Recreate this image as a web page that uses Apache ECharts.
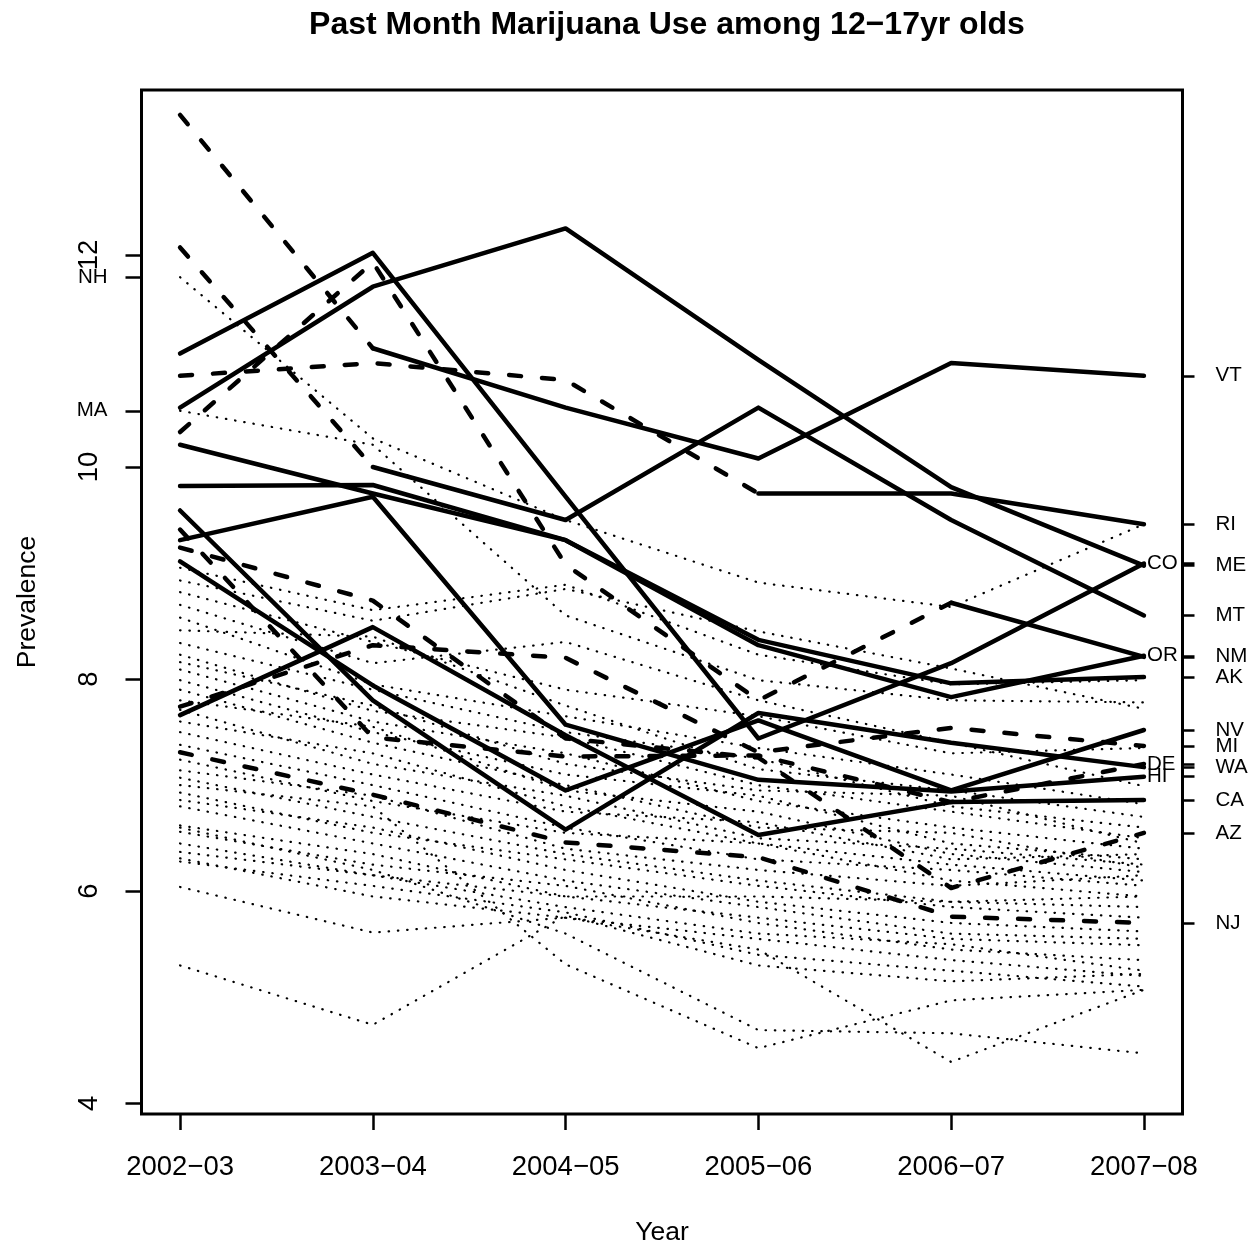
<!DOCTYPE html>
<html><head><meta charset="utf-8">
<script src="https://cdn.jsdelivr.net/npm/echarts@6/dist/echarts.min.js"></script>
<style>html,body{margin:0;padding:0;background:#fff}#c{width:1251px;height:1245px}</style>
</head><body><div id="c"></div>
<script>
// ---------- data ----------
const years = ['2002\u221203','2003\u221204','2004\u221205','2005\u221206','2006\u221207','2007\u221208'];
const yTicks = [4, 6, 8, 10, 12];

// states with (eventual) medical marijuana laws: dashed before law, solid after
const VT = [13.32, 11.12, 10.56, 10.08, 10.98, 10.86];
const MT = [12.07, 10.00, 9.50, 10.56, 9.50, 8.60];
const RI = [10.86, 10.98, 10.82, 9.75, 9.75, 9.46];
const NM = [10.33, 11.93, 9.08, 7.80, 8.72, 8.21];
const ME = [10.56, 11.70, 12.25, 11.01, 9.81, 9.07];
const CO = [11.07, 12.02, 9.72, 7.44, 8.15, 9.09];
const AK = [10.21, 9.75, 9.31, 8.37, 7.96, 8.02];
const OR = [9.82, 9.83, 9.31, 8.32, 7.83, 8.22];
const HI = [9.31, 9.72, 7.57, 7.05, 6.94, 7.08];
const CA = [7.66, 8.49, 7.47, 6.53, 6.84, 6.86];
const WA = [9.59, 7.80, 6.58, 7.68, 7.40, 7.17];
const NV = [9.11, 7.94, 6.95, 7.61, 6.95, 7.52];
const MI = [7.74, 8.32, 8.20, 7.31, 7.54, 7.37];
const DE = [9.41, 7.45, 7.27, 7.28, 6.84, 7.20];
const AZ = [9.24, 8.74, 7.44, 7.26, 6.03, 6.55];
const NJ = [7.31, 6.91, 6.46, 6.32, 5.76, 5.70];

// index of the first period drawn solid (6 = never solid)
const solidFrom = {VT:1, MT:1, RI:3, NM:4, ME:0, CO:0, AK:0, OR:0, HI:0, CA:0, WA:0, NV:0, MI:6, DE:6, AZ:6, NJ:6};
const thickStates = {VT, MT, RI, NM, ME, CO, AK, OR, HI, CA, WA, NV, MI, DE, AZ, NJ};
const rightLabelled = ['VT','RI','ME','MT','NM','AK','NV','MI','WA','CA','AZ','NJ'];
const inlineLabelled = ['CO','OR','DE','HI'];

// other states (dotted)
const NH = [11.79, 10.27, 9.50, 8.91, 8.68, 9.46];
const MA = [10.53, 10.21, 8.60, 7.99, 7.80, 7.78];
const others = [
  [9.05, 8.65, 8.89, 8.23, 7.95, 7.99],
  [8.93, 8.55, 8.85, 8.45, 8.10, 7.72],
  [8.82, 8.35, 7.90, 7.65, 7.30, 7.35],
  [8.70, 8.15, 8.35, 7.80, 7.40, 6.99],
  [8.58, 7.95, 7.65, 7.35, 7.10, 6.82],
  [8.46, 8.40, 7.75, 7.15, 6.95, 6.70],
  [8.34, 7.90, 7.50, 7.25, 6.80, 6.60],
  [8.23, 7.70, 7.45, 7.00, 6.75, 6.50],
  [8.16, 7.75, 7.20, 6.95, 6.90, 6.45],
  [8.09, 7.60, 7.30, 6.85, 6.60, 6.40],
  [7.99, 7.50, 7.10, 6.90, 6.45, 6.30],
  [7.90, 7.40, 7.00, 6.60, 6.55, 6.22],
  [7.80, 7.55, 6.95, 6.75, 6.35, 6.18],
  [7.71, 7.20, 6.90, 6.50, 6.40, 6.25],
  [7.60, 7.30, 6.80, 6.45, 6.25, 6.10],
  [7.50, 7.10, 6.75, 6.65, 6.30, 6.35],
  [7.38, 7.00, 6.60, 6.30, 6.20, 6.05],
  [7.24, 6.85, 6.55, 6.45, 6.10, 5.95],
  [7.14, 6.90, 6.40, 6.20, 6.05, 6.15],
  [7.07, 6.70, 6.35, 6.10, 5.90, 5.85],
  [7.00, 6.80, 5.31, 4.52, 4.97, 5.07],
  [6.93, 6.55, 6.30, 6.05, 5.85, 5.75],
  [6.86, 6.60, 6.20, 5.90, 5.70, 5.62],
  [6.80, 6.45, 6.10, 5.85, 5.60, 5.55],
  [6.62, 6.35, 5.95, 5.75, 5.55, 5.49],
  [6.56, 6.25, 6.05, 5.70, 5.45, 5.35],
  [6.45, 6.15, 5.85, 5.60, 5.50, 5.25],
  [6.37, 6.15, 5.95, 5.95, 5.90, 5.95],
  [6.31, 5.95, 5.75, 5.55, 5.35, 5.20],
  [6.28, 6.05, 5.80, 5.40, 5.25, 5.10],
  [6.04, 5.61, 5.75, 5.45, 4.39, 5.07],
  [5.30, 4.74, 5.77, 5.30, 5.15, 5.22],
  [6.60, 6.20, 5.60, 4.69, 4.66, 4.47]
];

// ---------- chart ----------
const FONT = '"Liberation Sans", Arial, Helvetica, sans-serif';
const YMIN = 3.899, YMAX = 13.555;
const pts = (arr, a, b) => arr.map((v, i) => [i, v]).slice(a, b + 1);

const series = [];
const dottedStyle = {color:'#000', width:2.2, type:[0.5, 8.8], cap:'round'};
[NH, MA].concat(others).forEach(arr => {
  series.push({type:'line', data:pts(arr, 0, 5), symbol:'none', z:2, silent:true,
    lineStyle: dottedStyle});
});
Object.keys(thickStates).forEach(name => {
  const arr = thickStates[name];
  const k = solidFrom[name];
  const inl = inlineLabelled.includes(name);
  const endLab = inl ? {show:true, formatter:name, color:'#000', fontSize:20.5, fontFamily:FONT, distance:3} : {show:false};
  if (k > 0) {
    series.push({type:'line', data:pts(arr, 0, Math.min(k, 5)), symbol:'none', z:3, silent:true,
      lineStyle:{color:'#000', width:4.5, type:[12, 21], cap:'round', join:'round'},
      endLabel: k >= 5 ? endLab : {show:false}});
  }
  if (k < 5) {
    series.push({type:'line', data:pts(arr, k, 5), symbol:'none', z:4, silent:true,
      lineStyle:{color:'#000', width:4.5, type:'solid', cap:'round', join:'round'},
      endLabel: endLab});
  }
});

const rightVals = rightLabelled.map(n => thickStates[n][5]);
const inlineVals = inlineLabelled.map(n => thickStates[n][5]);
const leftNames = ['NH','MA'];
const leftVals = [NH[0], MA[0]];
const tickStyle = {color:'#000', width:2.5};

const baseY = {type:'value', min:YMIN, max:YMAX, splitLine:{show:false}, axisLine:{show:false, onZero:false}};

const option = {
  animation:false,
  backgroundColor:'#fff',
  title:{text:'Past Month Marijuana Use among 12\u221217yr olds', left:662, top:4, textAlign:'center',
    textStyle:{fontFamily:FONT, fontSize:32, fontWeight:'bold', color:'#000'}},
  grid:{left:141.5, right:68.5, top:90, bottom:131, show:true, borderColor:'#000', borderWidth:3, backgroundColor:'#fff',
    containLabel:false, outerBoundsMode:'none'},
  xAxis:{type:'value', min:-0.2, max:5.2, splitLine:{show:false}, axisLine:{show:false, onZero:false},
    axisTick:{show:true, length:16, lineStyle:tickStyle, customValues:[0,1,2,3,4,5]},
    axisLabel:{customValues:[0,1,2,3,4,5], formatter:v => years[Math.round(v)], fontSize:27.5, color:'#000', fontFamily:FONT, margin:39},
    name:'Year', nameLocation:'middle', nameGap:105, nameTextStyle:{fontSize:26.5, color:'#000', fontFamily:FONT}},
  yAxis:[
    Object.assign({}, baseY, {position:'left',
      axisTick:{show:true, length:16, lineStyle:tickStyle, customValues:yTicks},
      axisLabel:{customValues:yTicks, rotate:90, fontSize:27.5, color:'#000', fontFamily:FONT, margin:38},
      name:'Prevalence', nameLocation:'middle', nameGap:100, nameTextStyle:{fontSize:26.5, color:'#000', fontFamily:FONT}}),
    Object.assign({}, baseY, {position:'left',
      axisTick:{show:true, length:16, lineStyle:tickStyle, customValues:leftVals},
      axisLabel:{customValues:leftVals, formatter:v => leftNames[leftVals.indexOf(v)], fontSize:20.5, color:'#000', fontFamily:FONT, margin:34}}),
    Object.assign({}, baseY, {position:'right',
      axisTick:{show:true, length:12, lineStyle:tickStyle, customValues:rightVals},
      axisLabel:{customValues:rightVals, formatter:v => rightLabelled[rightVals.indexOf(v)], fontSize:20.5, color:'#000', fontFamily:FONT, margin:33}}),
    Object.assign({}, baseY, {position:'right',
      axisTick:{show:true, length:12, lineStyle:tickStyle, customValues:inlineVals},
      axisLabel:{show:false}})
  ],
  series: series
};
const chart = echarts.init(document.getElementById('c'), null, {width:1251, height:1245});
chart.setOption(option);
</script></body></html>
